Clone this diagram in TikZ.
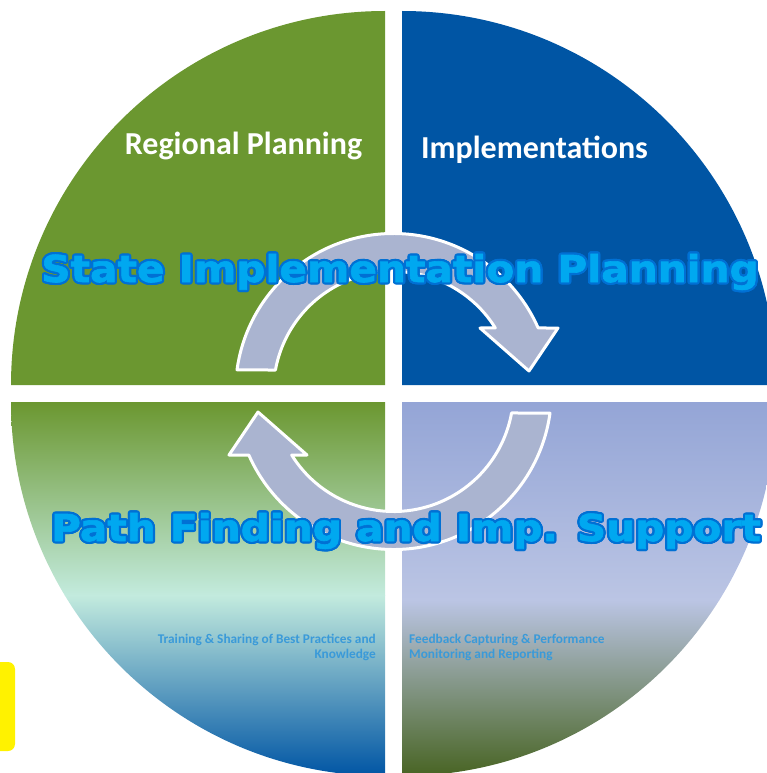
\documentclass[tikz,border=0pt]{standalone}
\usepackage{fontspec}
\setmainfont{Carlito}
\newfontfamily\bannerfont{DejaVu Sans}[FakeStretch=1.1, BoldFeatures={FakeBold=1.6}]
\usetikzlibrary{calc}

\definecolor{leafgreen}{RGB}{107,151,48}
\definecolor{deepblue}{RGB}{0,85,164}
\definecolor{mint}{RGB}{195,235,222}
\definecolor{periwinkle}{RGB}{148,165,214}
\definecolor{paleblue}{RGB}{187,197,228}
\definecolor{mossgreen}{RGB}{72,100,35}
\definecolor{arrowgrey}{RGB}{170,180,208}
\definecolor{bannerfill}{RGB}{0,168,240}
\definecolor{bannerline}{RGB}{0,112,212}
\definecolor{notetext}{RGB}{58,154,217}

\begin{document}
\begin{tikzpicture}[x=1pt, y=1pt,
	cyclearrow/.style={fill=arrowgrey, draw=white, line width=3, line join=round},
	quadlabel/.style={text=white, font=\fontsize{32}{36}\selectfont\bfseries, anchor=base, inner sep=0},
	banner/.style={font=\bannerfont\fontsize{37}{44}\selectfont\bfseries, anchor=base, inner sep=0},
	note/.style={text=notetext, font=\fontsize{13.3}{15}\selectfont\bfseries, inner sep=0}]

	\useasboundingbox (0,0) rectangle (767,-773);
	\clip (0,0) rectangle (767,-773);

% yellow tab at the left edge
	\fill[yellow, rounded corners=7] (-20,-662) rectangle (15,-751);

% quarter disks
	\fill[leafgreen] (385,-385) -- (11,-385) arc[start angle=180, end angle=90, radius=374] -- cycle;
	\fill[deepblue] (402,-385) -- (402,-11) arc[start angle=90, end angle=0, radius=374] -- cycle;

	\begin{scope}
		\clip (385,-402) -- (11,-402) arc[start angle=180, end angle=270, radius=374] -- cycle;
		\shade[top color=leafgreen, bottom color=mint] (0,-402) rectangle (385,-595.5);
		\shade[top color=mint, bottom color=deepblue] (0,-595) rectangle (385,-776);
	\end{scope}

	\begin{scope}
		\clip (402,-402) -- (776,-402) arc[start angle=0, end angle=-90, radius=374] -- cycle;
		\shade[top color=periwinkle, bottom color=paleblue] (402,-402) rectangle (776,-600.5);
		\shade[top color=paleblue, bottom color=mossgreen] (402,-600) rectangle (776,-776);
	\end{scope}

% the two turning arrows
	\foreach \turn in {0,180} {
		\begin{scope}[shift={(393.5,-391.5)}, rotate=\turn]
			\path[cyclearrow] (172.1:158) arc[start angle=172.1, end angle=23.7, radius=158]
				-- (164.5,63.5) -- (135.5,20.5) -- (86.5,63.5) -- (32:120)
				arc[start angle=32, end angle=169.7, radius=120] -- cycle;
		\end{scope}
	}

% quadrant titles
	\node[quadlabel] (regional) at (243.5,-154.5) {Regional Planning};
	\node[quadlabel] (implement) at (534.5,-158) {Implementations};

% banners with outline
	\foreach \a in {0,24,...,336} {
		\node[banner, text=bannerline] (sipghost\a) at ($(400,-282)+(\a:2.2)$) {State Implementation Planning};
		\node[banner, text=bannerline] (pfsghost\a) at ($(406,-541)+(\a:2.2)$) {Path Finding and Imp. Support};
	}
	\node[banner, text=bannerfill] (sip) at (400,-282) {State Implementation Planning};
	\node[banner, text=bannerfill] (pfs) at (406,-541) {Path Finding and Imp. Support};

% notes in the lower quadrants
	\node[note, align=right, anchor=north east] (training) at (376,-634)
		{Training \& Sharing of Best Practices and\\Knowledge};
	\node[note, align=left, anchor=north west] (feedback) at (409,-634)
		{Feedback Capturing \& Performance\\Monitoring and Reporting};

\end{tikzpicture}
\end{document}
